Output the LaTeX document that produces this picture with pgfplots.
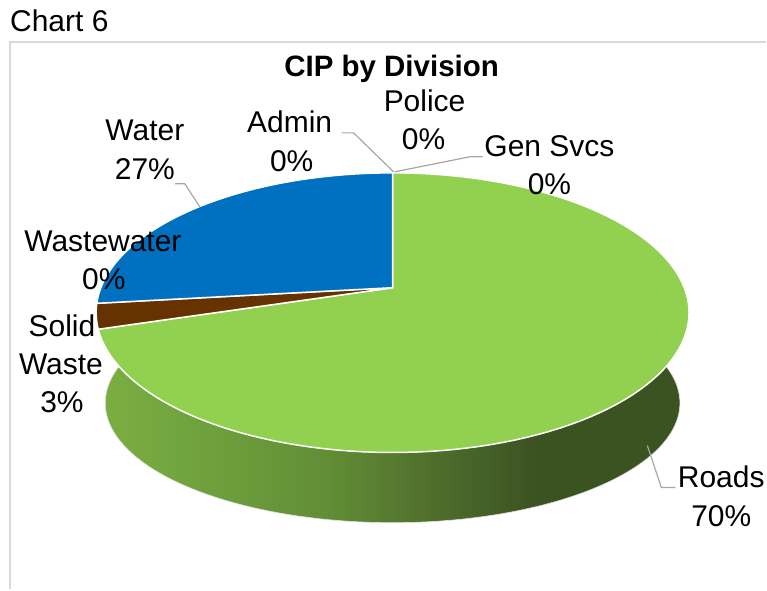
\documentclass[border=0pt]{standalone}
\usepackage{pgfplots}
\pgfplotsset{compat=1.18}
\usepackage{fontspec}
\setmainfont{Liberation Sans}
\definecolor{roadsc}{HTML}{92D050}
\definecolor{waterc}{HTML}{0070C0}
\definecolor{solidc}{HTML}{663300}
\definecolor{leadc}{HTML}{A6A6A6}
\definecolor{borderc}{HTML}{D9D9D9}
\definecolor{sg1}{HTML}{7BAF42}
\definecolor{sg2}{HTML}{6FA23D}
\definecolor{sg3}{HTML}{618D36}
\definecolor{sg4}{HTML}{506F2C}
\definecolor{sg5}{HTML}{445F27}
\definecolor{sg6}{HTML}{3B5221}
\pgfdeclarehorizontalshading{sideshade}{100bp}{color(0bp)=(sg1); color(25bp)=(sg1); color(33.7bp)=(sg2); color(44.7bp)=(sg3); color(53bp)=(sg4); color(58.1bp)=(sg5); color(62.3bp)=(sg6); color(100bp)=(sg6)}
% data (percent of CIP), clockwise from 12 o'clock
\def\vRoads{70.3}
\def\vSolid{2.9}
\def\vWastewater{0}
\def\vWater{26.8}
\def\vAdmin{0}
\def\vPolice{0}
\def\vGenSvcs{0}
\pgfmathsetmacro\aRoadsEnd{90-3.6*\vRoads}
\pgfmathsetmacro\aSolidEnd{\aRoadsEnd-3.6*\vSolid}
\pgfmathsetmacro\aWaterEnd{\aSolidEnd-3.6*\vWastewater-3.6*\vWater}
\begin{document}
\begin{tikzpicture}[font=\fontsize{30}{36}\selectfont, every node/.style={inner sep=0pt}]
\begin{axis}[
  width=767pt, height=590pt, scale only axis,
  xmin=0, xmax=767, ymin=0, ymax=590, y dir=reverse,
  hide axis, clip=false,
  declare function={
    tx(\t)=393+292*cos(\t)/(1+0.1786*sin(\t));
    ty(\t)=288-135.5*sin(\t)/(1+0.1786*sin(\t));
    bx(\t)=393+283*cos(\t)/(1+0.1786*sin(\t));
    by(\t)=382-116*sin(\t)/(1+0.1786*sin(\t));
  }]
% full canvas (invisible)
\path[draw=none] (0,0) rectangle (767,590);
% border
\addplot[borderc, line width=1.6pt] coordinates {(10,590) (10,42) (767,42)};
% side of pie
\addplot[shade, shading=sideshade, draw=white!88!black, line width=0.6pt, domain=0:2, samples=301, variable=\s]
  ({\s<=1 ? tx(-190+200*\s) : bx(10-200*(\s-1))},
   {\s<=1 ? ty(-190+200*\s) : by(10-200*(\s-1))}) -- cycle;
% top wedges
\addplot[fill=roadsc, draw=white, line width=1.5pt, domain=\aRoadsEnd:90, samples=120, variable=\t]
  ({tx(\t)},{ty(\t)}) -- (393,288) -- cycle;
\addplot[fill=solidc, draw=white, line width=1.5pt, domain=\aSolidEnd:\aRoadsEnd, samples=10, variable=\t]
  ({tx(\t)},{ty(\t)}) -- (393,288) -- cycle;
\addplot[fill=waterc, draw=white, line width=1.5pt, domain=\aWaterEnd:\aSolidEnd, samples=80, variable=\t]
  ({tx(\t)},{ty(\t)}) -- (393,288) -- cycle;
% leader lines
\addplot[leadc, line width=1.2pt] coordinates {(648,446) (662,488) (676,488)};
\addplot[leadc, line width=1.2pt] coordinates {(342,133) (354,133) (394,172)};
\addplot[leadc, line width=1.2pt] coordinates {(395,172) (470,157) (483,157)};
\addplot[leadc, line width=1.2pt] coordinates {(175,184) (185,184) (200,207)};
% labels
\node[anchor=base west] at (10,32) {Chart 6};
\node[anchor=base, font=\fontsize{29.5}{35}\selectfont\bfseries] at (392,77) {CIP by Division};
\node[anchor=base] at (425,112) {Police};
\node[anchor=base] at (424,150) {0\%};
\node[anchor=base] at (290,133) {Admin};
\node[anchor=base] at (292,172) {0\%};
\node[anchor=base] at (550,157) {Gen Svcs};
\node[anchor=base] at (550,195) {0\%};
\node[anchor=base] at (145,141) {Water};
\node[anchor=base] at (145,180) {27\%};
\node[anchor=base] at (103,252) {Wastewater};
\node[anchor=base] at (104,290) {0\%};
\node[anchor=base] at (62,337) {Solid};
\node[anchor=base] at (61,375) {Waste};
\node[anchor=base] at (62,413) {3\%};
\node[anchor=base] at (722,488) {Roads};
\node[anchor=base] at (722,527) {70\%};
\end{axis}
\end{tikzpicture}
\end{document}
